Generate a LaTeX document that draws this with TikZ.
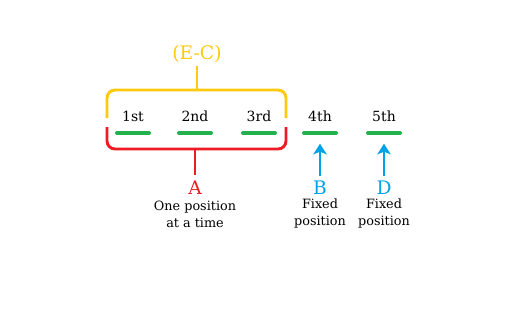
\documentclass[tikz,border=0pt]{standalone}
\usepackage{fontspec}
\setmainfont{DejaVu Serif}
\definecolor{pGreen}{HTML}{22B14C}
\definecolor{pYellow}{HTML}{FFC90E}
\definecolor{pRed}{HTML}{ED1C24}
\definecolor{pBlue}{HTML}{00A2E8}
\usetikzlibrary{arrows.meta, positioning}

\begin{document}
\begin{tikzpicture}[x=0.75pt, y=-0.75pt,
    slot/.style={draw=pGreen, line width=3pt, line cap=round},
    ordinal/.style={font=\fontsize{10.5}{12}\selectfont, inner sep=0pt},
    brace/.style={line width=2.2pt, rounded corners=6pt},
    letter/.style={font=\fontsize{14}{16}\selectfont, inner sep=0pt},
    note/.style={font=\fontsize{9.6}{12.75}\selectfont, align=center, inner sep=0pt}]
  \useasboundingbox (0,0) rectangle (509,318);
  % the five slots
  \foreach \x/\name/\txt in {133/s1/1st, 195/s2/2nd, 259/s3/3rd, 320/s4/4th, 384/s5/5th} {
    \draw[slot] (\x-16,133) -- (\x+16,133);
    \coordinate (\name) at (\x,133);
    \node[ordinal] (\name t) at (\x,116) {\txt};
  }
  % upper bracket
  \node[letter, text=pYellow] (ec) at (197,54) {(E-C)};
  \coordinate (yl) at (107,118);
  \coordinate (yr) at (286,118);
  \draw[brace, pYellow] (yl) |- (197,90) -| (yr);
  \draw[pYellow, line width=2.2pt] (197,90) -- (ec.south |- 0,66);
  % lower bracket
  \node[letter, text=pRed] (a) at (195,188) {A};
  \node[note] (anote) at (195,214) {One position\\at a time};
  \coordinate (rl) at (107,127);
  \coordinate (rr) at (286,127);
  \draw[brace, pRed] (rl) |- (195,149) -| (rr);
  \draw[pRed, line width=2.2pt] (195,149) -- (195,175);
  % fixed slots
  \node[letter, text=pBlue] (b) at (320,188) {B};
  \node[letter, text=pBlue] (d) at (384,188) {D};
  \node[note] (bnote) at (320,213) {Fixed\\position};
  \node[note] (dnote) at (384,213) {Fixed\\position};
  \foreach \n/\s in {b/s4, d/s5}
    \draw[pBlue, line width=2.2pt, -{Stealth[length=8pt, width=10pt, inset=2pt]}]
      ([yshift=4pt]\n.north) -- ([yshift=-8pt]\s);
\end{tikzpicture}
\end{document}
